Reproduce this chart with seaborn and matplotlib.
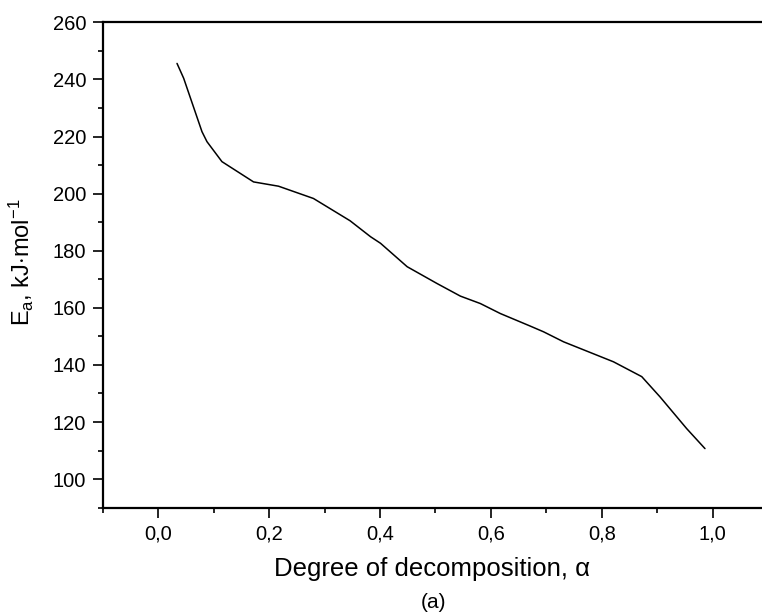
import matplotlib
matplotlib.use("Agg")
import matplotlib.pyplot as plt
import seaborn as sns
import pandas as pd
from matplotlib.ticker import MultipleLocator, FuncFormatter

alpha = [0.034, 0.046, 0.079, 0.088, 0.115, 0.172, 0.217, 0.280, 0.346, 0.383,
         0.401, 0.449, 0.503, 0.545, 0.581, 0.617, 0.671, 0.695, 0.731, 0.821,
         0.872, 0.905, 0.953, 0.986]
ea = [245.6, 240.4, 221.7, 218.2, 211.2, 204.1, 202.6, 198.3, 190.5, 184.9,
      182.6, 174.4, 168.5, 164.1, 161.5, 158.0, 153.6, 151.6, 148.1, 141.1,
      135.9, 128.8, 117.7, 110.7]

x_label = "Degree of decomposition, \u03b1"
y_label = r"E$_{\mathregular{a}}$, kJ$\cdot$mol$^{\mathregular{-1}}$"
caption = "(a)"

sns.set_style("ticks")
plt.rcParams['font.family'] = ['Liberation Sans', 'DejaVu Sans']
plt.rcParams['mathtext.fontset'] = 'custom'
plt.rcParams['mathtext.rm'] = 'Liberation Sans'
plt.rcParams['mathtext.it'] = 'Liberation Sans'
plt.rcParams['text.color'] = 'black'

df = pd.DataFrame({"alpha": alpha, "Ea": ea})

fig = plt.figure(figsize=(7.62, 6.15), dpi=100)
ax = fig.add_axes([102.7 / 762, 107.3 / 615, (768.2 - 102.7) / 762, (507.7 - 22.3) / 615])

sns.lineplot(data=df, x="alpha", y="Ea", ax=ax, color="black", linewidth=1.1, sort=False)

ax.set_xlim(-0.1, 1.1)
ax.set_ylim(90, 260)
ax.xaxis.set_minor_locator(MultipleLocator(0.1))
ax.yaxis.set_minor_locator(MultipleLocator(10))
ax.set_yticks([100, 120, 140, 160, 180, 200, 220, 240, 260])
ax.set_xticks([0.0, 0.2, 0.4, 0.6, 0.8, 1.0])
ax.xaxis.set_major_formatter(FuncFormatter(lambda v, p: f"{v:.1f}".replace(".", ",")))

for s in ax.spines.values():
    s.set_linewidth(1.6)
    s.set_color("black")
ax.spines['right'].set_visible(False)

ax.tick_params(which="major", direction="out", length=7, width=1.2, labelsize=14.5, pad=5,
               colors="black", labelcolor="black")
ax.tick_params(which="minor", direction="out", length=3.6, width=1.2, colors="black")
ax.tick_params(axis="x", which="both", top=False)
ax.tick_params(axis="y", which="both", right=False)

ax.set_xlabel("")
ax.set_ylabel("")
fig.text(432 / 762, 1 - 569 / 615, x_label, ha="center", va="center", fontsize=18.5, color="black")
fig.text(21 / 762, 1 - 262 / 615, y_label, ha="center", va="center", rotation=90, fontsize=17, color="black")
fig.text(433 / 762, 1 - 603 / 615, caption, ha="center", va="center", fontsize=15, color="black")

fig.savefig("out.png", dpi=100)
